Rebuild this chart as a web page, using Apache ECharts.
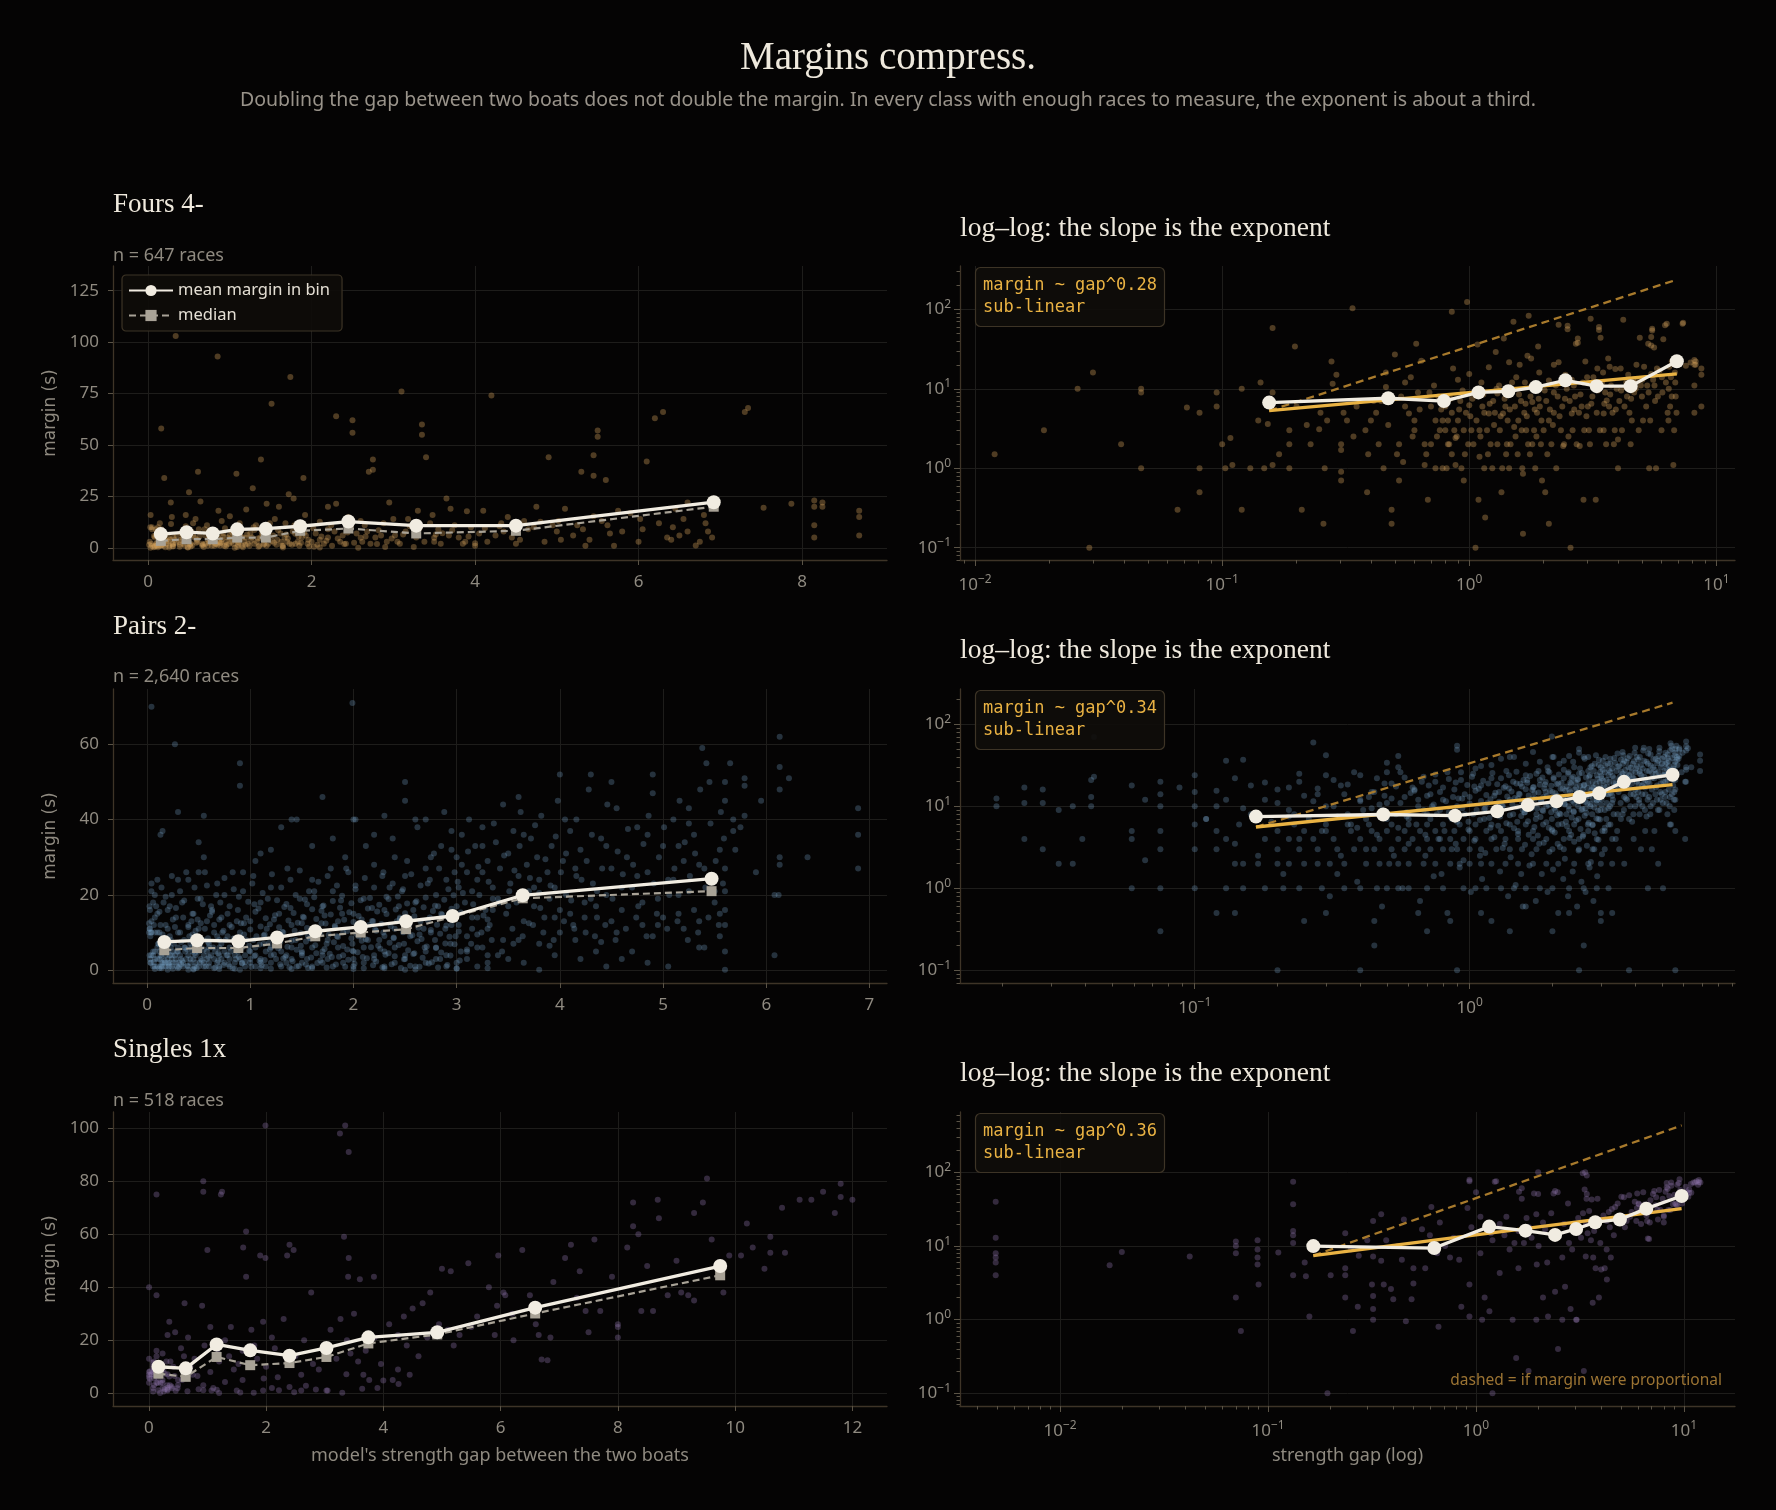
<!DOCTYPE html>
<html>
<head>
<meta charset="UTF-8">
<title>Margins compress.</title>
<script src="https://cdn.jsdelivr.net/npm/echarts@6/dist/echarts.min.js"></script>
<style>
  html, body { margin: 0; padding: 0; background: #050404; }
  #chart { width: 1776px; height: 1510px; }
</style>
</head>
<body>
<div id="chart"></div>
<script>
// ---- data ----
var classNames = ['Fours 4-', 'Pairs 2-', 'Singles 1x'];
var raceCounts = ['n = 647 races', 'n = 2,640 races', 'n = 518 races'];
var fitLabels = ['margin ~ gap^0.28\nsub-linear', 'margin ~ gap^0.34\nsub-linear', 'margin ~ gap^0.36\nsub-linear'];

// [strength gap, margin in seconds]
var foursPts = [
  [0.012,1.5],[0.019,3],[0.026,10],[0.029,0.1],[0.03,16],[0.039,2],[0.047,10],[0.047,9],[0.047,1],[0.066,0.3],[0.072,5.8],[0.081,5],[0.081,1],[0.081,0.5],[0.095,9],[0.095,6],[0.103,1],[0.108,2.4],[0.12,10],[0.12,0.3],[0.11,1.1],[0.13,1],[0.143,12],[0.148,1],[0.153,3.6],[0.16,58],[0.16,9],[0.16,1.1],
  [0.187,3],[0.187,2],[0.187,1],[0.197,34],[0.2,6],[0.21,0.3],[0.228,2],[0.247,3.1],[0.25,5],[0.257,0.2],[0.266,4],[0.277,22],[0.28,11.6],[0.29,15],[0.303,2],[0.303,1.7],[0.303,0.9],[0.303,0.7],[0.32,4],[0.337,103],[0.35,6],[0.38,3],[0.386,0.5],[0.4,4],[0.42,5],[0.43,2],[0.44,7],[0.45,1],[0.46,16],[0.46,10.5],[0.485,0.3],[0.485,0.2],[0.5,27],
  [0.52,2],[0.52,0.7],[0.54,1.2],[0.55,12],[0.55,6],[0.57,4.9],[0.58,14],[0.6,4],[0.6,3],[0.61,37],[0.62,9],[0.64,22.5],[0.66,2],[0.66,1.1],[0.68,0.4],[0.7,6],[0.7,2],[0.72,11],[0.73,4],[0.73,1],[0.75,8],[0.76,3],[0.78,4],[0.78,1],[0.8,3],[0.8,6],[0.82,4],[0.82,2],[0.83,2],[0.85,93],[0.85,5],[0.85,1.5],[0.86,18],[0.87,3],[0.88,2.4],[0.88,1.1],[0.9,4],[0.9,13],[0.92,7],[0.93,1],[0.95,0.7],[0.95,3],[0.97,5],[0.98,124],[0.99,2],
  [1.0,15.4],[1.0,6.2],[1.02,3],[1.04,2],[1.05,9],[1.06,0.1],[1.07,4],[1.08,36],[1.09,0.4],[1.1,3],[1.1,1.4],[1.12,12],[1.13,6],[1.15,5],[1.15,1],[1.16,0.24],[1.18,3],[1.2,18.6],[1.2,4.9],[1.22,2],[1.24,1],[1.25,7],[1.27,5],[1.28,29],[1.3,2],[1.3,8.7],[1.32,11],[1.33,3],[1.35,0.5],[1.36,1],[1.37,4.9],[1.38,43],[1.4,6],[1.42,2],[1.43,4],[1.45,21.5],[1.45,1],[1.47,2],[1.48,9],[1.51,70],[1.52,3.3],[1.53,6],[1.55,14],[1.57,1.5],[1.58,4],[1.6,20],[1.62,7],[1.63,3],[1.65,0.15],[1.65,0.85],[1.67,5],[1.68,12],[1.7,3],[1.72,26],[1.73,2],[1.74,83],[1.77,8],[1.78,24],[1.8,6.8],[1.8,2],[1.83,3],[1.85,10],[1.85,1],[1.88,5],[1.9,34],[1.92,16],[1.93,6],[1.95,2],[1.97,0.7],[2.0,3],[2.03,0.5],
  [2.05,7],[2.1,0.2],[2.1,4],[2.1,12.7],[2.15,2],[2.2,9],[2.2,20],[2.2,5],[2.25,1],[2.28,8],[2.3,21.5],[2.3,64],[2.35,3],[2.38,6],[2.4,1.9],[2.42,2],[2.45,15],[2.48,10],[2.5,62],[2.5,56],[2.55,7],[2.57,0.1],[2.6,4.9],[2.6,13],[2.62,3],[2.65,11],[2.68,8],[2.7,37],[2.72,2],[2.75,43],[2.75,38],[2.78,5],[2.8,1.9],[2.85,6],[2.88,12],[2.9,0.4],[2.92,3],[2.95,22],[3.0,14],[3.02,6],[3.05,3],[3.08,2],[3.1,76],[3.15,8],[3.18,14],[3.2,10.5],[3.25,0.4],[3.28,5],[3.3,18],[3.35,60],[3.35,55],[3.38,3],[3.4,44],[3.45,12],[3.48,16],[3.5,4.9],[3.5,3],[3.55,9],[3.58,2],[3.6,7.1],[3.65,24],[3.68,6],[3.7,19],[3.75,11],[3.8,5],[3.85,2],[3.88,3],[3.9,17.8],[3.95,10],[4.0,2.3],[4.0,1],
  [4.05,7],[4.1,18],[4.15,3],[4.2,74],[4.25,6],[4.3,10.5],[4.35,8],[4.4,15],[4.45,5],[4.5,2],[4.55,4],[4.6,13],[4.65,9],[4.75,20],[4.8,12.7],[4.85,3],[4.9,44],[4.95,11],[5.0,8],[5.05,4],[5.1,19],[5.2,6],[5.25,11],[5.3,37],[5.35,1],[5.4,4],[5.45,15.4],[5.45,45],[5.45,35],[5.5,57],[5.5,54],[5.55,13],[5.6,33],[5.65,7],[5.7,1],[5.75,18],[5.8,8],[5.9,17],[6.0,3],[6.05,9],[6.1,42],[6.2,63],[6.25,12],[6.3,66],[6.35,5],[6.4,4],[6.45,19],[6.5,6],[6.55,14],[6.6,8],[6.6,22],[6.7,1.1],[6.75,3],[6.8,16],[6.85,8],[6.9,5],
  [7.34,68],[7.3,66],[7.53,19.5],[7.87,21.4],[8.15,23],[8.15,20],[8.15,11],[8.15,5],[8.25,22],[8.25,20],[8.7,18],[8.7,15],[8.7,6],
  [0.1,2],[0.14,4],[0.17,1.5],[0.22,3.5],[0.26,1],[0.31,5],[0.34,2.5],[0.39,1.5],[0.41,7],[0.47,3.5],[0.51,1.5],[0.53,8],[0.59,2.5],[0.63,5.5],[0.67,1.5],[0.69,9],[0.74,2.5],[0.77,5.5],[0.81,1],[0.84,7.5],[0.89,2.5],[0.91,5.5],[0.94,9.5],[0.96,1.5],[1.01,4.5],[1.03,7.5],[1.11,2.5],[1.14,8.5],[1.19,1.5],[1.21,6.5],[1.26,3.5],[1.29,10],[1.34,4.5],[1.39,7.5],[1.41,1.5],[1.46,5.5],[1.49,12],[1.54,2.5],[1.59,8.5],[1.64,1],[1.69,6.5],[1.71,4.5],[1.76,1.5],[1.79,11],[1.84,5.5],[1.87,2.5],[1.91,7.5],[1.96,4],[2.02,9.5],[2.07,1.5],[2.12,5.5],[2.18,3.5],[2.24,11],[2.32,4.5],[2.44,7.5],[2.52,2.5],[2.66,5.5],[2.82,8.5],[2.98,4.5],[3.12,6.5],[3.32,9.5],[3.52,6.5],[3.72,8.5],[3.92,5.5],[4.12,9.5],[4.32,12],[4.52,7.5],[4.72,10],[5.02,13],[5.32,9],[5.62,11],[6.02,14],[6.42,10],[6.82,12]
];

var pairsPts = [
  [0.019,12.5],[0.019,10],[0.024,17],[0.024,11],[0.024,4],[0.028,16],[0.028,11],[0.028,3],[0.032,9],[0.032,2],[0.036,10],[0.036,2],[0.039,4],[0.042,21],[0.042,13],[0.042,10],[0.043,23],[0.043,70],[0.059,18],[0.059,5],[0.059,4],[0.059,1],[0.066,12],[0.066,2.2],[0.075,20],[0.075,14],[0.075,10],[0.075,5],[0.075,3],[0.075,1],[0.075,0.3],[0.088,17],[0.1,24],[0.1,15],[0.1,10],[0.1,6],[0.1,3],[0.1,1],[0.11,7],[0.12,5],[0.12,10],[0.12,3],[0.13,4],[0.13,1],[0.13,36],[0.14,0.5],[0.14,2],[0.145,6],
  [0.15,1],[0.18,1],[0.21,1],[0.24,1],[0.29,1],[0.35,1],[0.4,1],[0.46,1],[0.5,1],[0.55,1],[0.6,1],[0.7,1],[0.8,1],[0.95,1],[1.05,1],[1.15,1],[1.3,1],[1.45,1],[1.6,1],[1.8,1],[2.0,1],[2.3,1],[2.6,1],[2.9,1],[3.2,1],
  [0.15,2],[0.17,2],[0.2,2],[0.22,2],[0.25,2],[0.28,2],[0.31,2],[0.35,2],[0.42,2],[0.47,2],[0.55,2],[0.6,2],[0.68,2],[0.75,2],[0.85,2],[0.92,2],[1.0,2],[1.1,2],[1.2,2],[1.35,2],[1.5,2],[1.7,2],[1.9,2],[2.1,2],[2.4,2],[2.7,2],[3.0,2],[3.3,2],
  [0.2,3],[0.24,3],[0.28,3],[0.33,3],[0.38,3],[0.45,3],[0.52,3],[0.58,3],[0.65,3],[0.72,3],[0.8,3],[0.9,3],[1.0,3],[1.1,3],[1.25,3],[1.4,3],[1.55,3],[1.75,3],[2.0,3],[2.2,3],[2.5,3],[2.8,3],[3.1,3],[3.5,3],
  [0.18,4],[0.22,4],[0.27,4],[0.32,4],[0.4,4],[0.47,4],[0.55,4],[0.62,4],[0.7,4],[0.78,4],[0.85,4],[0.95,4],[1.05,4],[1.2,4],[1.35,4],[1.5,4],[1.7,4],[1.9,4],[2.2,4],[2.5,4],[2.9,4],[3.3,4],
  [0.2,5],[0.25,5],[0.3,5],[0.37,5],[0.44,5],[0.5,5],[0.58,5],[0.66,5],[0.75,5],[0.88,5],[1.0,5],[1.15,5],[1.3,5],[1.5,5],[1.7,5],[2.0,5],[2.3,5],[2.7,5],[3.1,5],
  [0.23,6],[0.3,6],[0.36,6],[0.43,6],[0.52,6],[0.6,6],[0.7,6],[0.8,6],[0.92,6],[1.05,6],[1.2,6],[1.4,6],[1.6,6],[1.85,6],[2.1,6],[2.4,6],[2.8,6],[3.2,6],
  [0.3,0.5],[0.45,0.4],[0.7,0.3],[1.1,0.5],[1.6,0.6],[2.0,0.3],[2.3,0.5],[2.6,0.2],[3.0,0.4],[3.3,0.5],[0.2,0.1],[0.4,0.1],[0.9,0.1],[2.5,0.1],[3.8,0.1],[0.85,0.4],[1.4,0.3],[0.25,0.4],[0.45,0.2],[0.65,0.5],
  [0.16,8],[0.18,12],[0.2,16],[0.22,9],[0.24,20],[0.26,7],[0.28,14],[0.3,24],[0.32,10],[0.34,18],[0.36,8],[0.38,26],[0.4,12],[0.42,7],[0.44,15],[0.46,22],[0.48,9],[0.5,11],[0.52,19],[0.54,8],[0.56,26],[0.58,13],[0.6,7],[0.62,17],[0.65,10],[0.68,23],[0.7,8],[0.72,14],[0.75,20],[0.78,9],[0.8,12],[0.83,26],[0.86,7],[0.88,16],[0.9,10],[0.93,21],[0.96,8],[1.0,13],[1.03,25],[1.06,9],[1.1,18],[1.13,7],[1.16,11],[1.2,22],[1.24,8],[1.28,15],[1.32,10],[1.36,27],[1.4,12],[1.44,8],[1.48,19],[1.52,14],[1.56,9],[1.6,24],[1.65,11],[1.7,17],[1.75,8],[1.8,21],[1.85,13],[1.9,10],[1.95,26],[2.0,15],[2.05,9],[2.1,19],[2.15,12],[2.2,28],[2.25,8],[2.3,16],[2.35,22],[2.4,11],[2.45,14],[2.5,25],[2.55,9],[2.6,18],[2.65,13],[2.7,27],[2.75,10],[2.8,20],[2.85,15],[2.9,24],[2.95,12],[3.0,17],[3.05,28],[3.1,9],[3.15,21],[3.2,14],[3.25,26],[3.3,11],[3.35,19],
  [0.9,55],[0.9,49],[0.3,42],[0.27,60],[0.55,41],[0.5,34],[0.55,30],[1.05,29],[1.2,32],[1.3,38],[1.4,40],[1.45,40],[1.7,46],[1.8,35],[2.0,40],[2.02,40],[2.5,50],[2.5,45],[2.3,41],[2.6,40],[2.7,40],[2.85,33],[2.95,37],[0.15,37],[1.1,31],[1.6,33],[2.2,36],[2.4,30],[2.75,30],[2.95,32],[1.99,71],
  [3.0,30],[3.02,22],[3.05,36],[3.08,18],[3.1,26],[3.12,40],[3.15,14],[3.18,33],[3.2,24],[3.22,20],[3.25,38],[3.28,16],[3.3,29],[3.32,12],[3.35,22],[3.38,34],[3.4,19],[3.42,27],[3.45,44],[3.48,15],[3.5,31],[3.52,23],[3.55,37],[3.58,18],[3.6,25],[3.62,42],[3.65,13],[3.68,28],[3.7,21],[3.72,35],[3.75,17],[3.78,30],[3.8,24],[3.82,41],[3.85,14],[3.88,26],[3.9,19],[3.92,33],[3.95,22],[3.98,45],[4.0,16],[4.03,29],[4.06,20],[4.1,37],[4.13,12],[4.16,25],[4.2,32],[4.24,18],[4.28,48],[4.32,23],[4.36,14],[4.4,35],[4.45,20],[4.5,27],[4.55,43],[4.6,16],[4.65,30],[4.7,22],[4.75,38],[4.8,12],[4.85,26],[4.9,47],[4.95,19],[5.0,33],[5.05,24],[5.1,40],[5.15,15],[5.2,29],[5.25,21],[5.3,36],[5.35,13],[5.4,27],[5.45,50],[5.5,18],[5.55,32],[5.58,23],[5.6,45],[5.42,55],[5.38,59],[5.25,43],[5.15,33],[4.9,52],[4.5,50],[4.3,52],[4.0,52],[3.6,46],[4.15,8],[4.35,5],[4.6,3],[4.85,2],[5.05,1],[5.35,6],[5.55,9],[3.95,4],[3.65,2],[3.25,6],[3.45,8],[3.8,7],[4.25,10],[4.45,1],[5.6,0.1],[5.6,5],[5.6,12],[5.6,16],[5.6,21],
  [5.68,37],[5.68,40],[5.79,41],[5.79,51],[5.79,49],[6.08,4],[6.08,20],[6.12,20],[6.13,62],[6.13,54],[6.13,48],[6.13,30],[6.13,28],[6.22,51],[6.4,30],[6.89,43],[6.89,36],[6.89,27],[5.65,55],[5.7,32],[5.75,38],[5.9,26],[5.95,45],
  [1.5,12.5],[1.55,17.5],[1.62,21],[1.68,9.5],[1.72,14.5],[1.78,27],[1.82,11.5],[1.88,18.5],[1.92,30],[1.98,8.5],[2.02,22.5],[2.08,13.5],[2.12,33],[2.18,16.5],[2.22,10.5],[2.28,25],[2.32,19.5],[2.38,35],[2.42,13],[2.48,21.5],[2.52,29],[2.58,16],[2.62,38],[2.68,11],[2.72,23],[2.78,31],[2.82,17],[2.88,42],[2.92,14],[2.98,26],
  [3.02,12],[3.06,20.5],[3.11,31.5],[3.16,17.5],[3.21,27.5],[3.26,14.5],[3.31,23.5],[3.36,39],[3.41,18],[3.46,30.5],[3.51,21],[3.56,26.5],[3.61,33],[3.66,19.5],[3.71,24.5],[3.76,38.5],[3.81,16.5],[3.86,29.5],[3.91,22.5],[3.96,35.5],[4.01,26],[4.06,31],[4.11,18.5],[4.16,40],[4.21,24],[4.26,29],[4.31,36],[4.36,21],[4.41,27],[4.46,44],[4.51,19],[4.56,31.5],[4.61,25.5],[4.66,37.5],[4.71,28],[4.76,17],[4.81,33.5],[4.86,41],[4.91,23],[4.96,30],[5.01,38],[5.06,20],[5.11,27],[5.16,45],[5.21,34],[5.26,25],[5.31,31],[5.36,48],[5.41,22],[5.46,39],[5.51,29],[5.56,42],[5.59,35],[5.6,27],[5.6,50],
  [0.17,2.5],[0.22,7.5],[0.27,11.5],[0.33,1.5],[0.39,5.5],[0.44,9.5],[0.49,13.5],[0.53,2.5],[0.59,7.5],[0.63,15.5],[0.69,4.5],[0.74,10.5],[0.79,1.5],[0.84,8.5],[0.89,3.5],[0.94,12.5],[0.99,6.5],[1.04,17.5],[1.09,2.5],[1.14,9.5],[1.19,5.5],[1.23,13.5],[1.29,7.5],[1.34,3.5],[1.39,16.5],[1.43,10.5],[1.49,6.5],[1.54,1.5],[1.59,8.5],[1.64,4.5],[1.69,12.5],[1.74,7],[1.79,3.5],[1.84,9],[1.89,15],[1.94,5.5],[1.99,7],[2.04,11],[2.09,3.5],[2.14,8],[2.19,13],[2.24,6.5],[2.29,10],[2.34,4.5],[2.39,8.5],[2.44,17],[2.49,7],[2.54,12],[2.59,4.5],[2.64,9.5],[2.69,6],[2.74,14],[2.79,8],[2.84,3],[2.89,11],[2.94,7],[2.99,9],[3.04,5],[3.14,7],[3.24,10],[3.34,8],[3.44,5],[3.54,11],[3.64,9],[3.74,12],[3.84,10],[3.94,8],[4.04,13],[4.14,11],[4.24,14],[4.34,9],[4.44,12],[4.54,8],[4.64,11],[4.74,14],[4.84,9],[4.94,15],[5.04,11],[5.14,13],[5.24,8],[5.34,10],[5.44,14],[5.54,12],
  [0.12,0.5],[0.14,3.5],[0.11,7],[0.15,9.5],[0.13,12],[0.12,15.5],[0.16,18],[0.14,22],
  [0.21,1.5],[0.24,4],[0.19,6.5],[0.23,8],[0.2,11],[0.25,13.5],[0.22,17],[0.18,19.5],[0.24,25],
  [0.31,0.8],[0.34,2.5],[0.29,5],[0.33,7.5],[0.3,10],[0.35,14],[0.28,16.5],[0.32,21],
  [0.39,1.2],[0.42,3],[0.37,6],[0.41,9],[0.4,11.5],[0.43,13],[0.36,18.5],[0.4,24],
  [0.48,0.6],[0.51,2],[0.46,4.5],[0.5,7],[0.47,10.5],[0.52,12.5],[0.45,15],[0.49,19],[0.5,26],
  [0.57,1],[0.6,3.5],[0.55,5.5],[0.59,8.5],[0.56,11],[0.61,14.5],[0.54,17.5],[0.58,22.5],
  [0.66,0.7],[0.69,2.5],[0.64,6],[0.68,9],[0.65,12],[0.7,13.5],[0.63,16],[0.67,20],
  [0.74,1.4],[0.77,4],[0.72,7],[0.76,8],[0.73,10],[0.78,15],[0.71,18],[0.75,24.5],
  [0.83,0.5],[0.86,3],[0.81,5],[0.85,7.5],[0.82,11.5],[0.87,13],[0.8,17],[0.84,21.5],
  [0.92,1.8],[0.95,2.2],[0.9,6.5],[0.94,9.5],[0.91,12.5],[0.96,14],[0.89,19.5],[0.93,26],
  [1.01,0.9],[1.04,3.8],[0.99,5.2],[1.03,8],[1.0,10.8],[1.05,15.5],[0.98,18.2],[1.02,23],
  [1.11,1.3],[1.14,2.7],[1.09,6.8],[1.13,9.2],[1.1,11.6],[1.15,13.8],[1.08,16.4],[1.12,20.5],
  [1.2,0.4],[1.23,4.2],[1.18,7.2],[1.22,8.6],[1.19,12.2],[1.24,14.6],[1.17,19],[1.21,25.5],
  [1.29,1.6],[1.32,3.1],[1.27,5.8],[1.31,10.2],[1.28,11.4],[1.33,16.8],[1.26,18.6],[1.3,22],
  [1.38,0.8],[1.41,2.4],[1.36,6.2],[1.4,7.8],[1.37,13.2],[1.42,15.2],[1.35,17.6],[1.39,24],
  [1.47,1.1],[1.5,4.6],[1.45,5.4],[1.49,9.8],[1.46,12.6],[1.51,14.2],[1.44,20],[1.48,26.5],
  [1.56,0.6],[1.59,3.4],[1.54,7.6],[1.58,8.4],[1.55,11.2],[1.6,16.2],[1.53,18.8],[1.57,21],
  [1.65,1.9],[1.68,2.6],[1.63,6.6],[1.67,10.6],[1.64,13.6],[1.69,15.8],[1.62,19.4],[1.66,23.5],
  [1.74,0.7],[1.77,4.4],[1.72,5.6],[1.76,9.4],[1.73,12.4],[1.78,14.8],[1.71,17.2],[1.75,25],
  [1.83,1.5],[1.86,3.6],[1.81,7.4],[1.85,8.8],[1.82,11.8],[1.87,16.6],[1.8,18.4],[1.84,22.5],
  [1.92,0.9],[1.95,2.8],[1.9,6.4],[1.94,10.4],[1.91,13.4],[1.96,15.4],[1.89,19.8],[1.93,27],
  [2.01,1.7],[2.04,4.8],[1.99,5.2],[2.03,9.6],[2.0,12.8],[2.05,14.4],[1.98,17.8],[2.02,21.5],
  [2.1,0.5],[2.13,3.2],[2.08,7.8],[2.12,8.2],[2.09,11.4],[2.14,16.4],[2.07,18.6],[2.11,24.5],
  [2.19,1.3],[2.22,2.3],[2.17,6.1],[2.21,10.8],[2.18,13.1],[2.23,15.6],[2.16,19.2],[2.2,22],
  [2.28,0.8],[2.31,4.1],[2.26,5.7],[2.3,9.1],[2.27,12.3],[2.32,14.9],[2.25,17.4],[2.29,26],
  [2.37,1.6],[2.4,3.7],[2.35,7.3],[2.39,8.7],[2.36,11.7],[2.41,16.1],[2.34,18.9],[2.38,23],
  [2.46,0.6],[2.49,2.9],[2.44,6.7],[2.48,10.1],[2.45,13.7],[2.5,15.1],[2.43,19.6],[2.47,21],
  [2.55,1.2],[2.58,4.3],[2.53,5.3],[2.57,9.3],[2.54,12.9],[2.59,14.3],[2.52,17.7],[2.56,25.5],
  [2.64,0.9],[2.67,3.3],[2.62,7.7],[2.66,8.3],[2.63,11.3],[2.68,16.7],[2.61,18.3],[2.65,22.5],
  [2.73,1.8],[2.76,2.1],[2.71,6.3],[2.75,10.7],[2.72,13.3],[2.77,15.7],[2.7,19.3],[2.74,24],
  [2.82,0.7],[2.85,4.7],[2.8,5.9],[2.84,9.7],[2.81,12.1],[2.86,14.7],[2.79,17.1],[2.83,27],
  [2.91,1.4],[2.94,3.9],[2.89,7.1],[2.93,8.9],[2.9,11.9],[2.95,16.3],[2.88,18.7],[2.92,21.5],
  [3.0,0.5],[3.03,2.6],[2.98,6.9],[3.02,10.3],[2.99,13.9],[3.04,15.3],[2.97,19.9],[3.01,23.5],
  [3.1,5.5],[3.2,9.5],[3.3,13.5],[3.4,4],[3.5,17],[3.6,8],[3.7,12.5],[3.8,20.5],[3.9,6.5],[4.0,10],[4.1,15],[4.2,3],[4.3,19],[4.4,7.5],[4.5,13],[4.6,22],[4.7,5],[4.8,18],[4.9,9],[5.0,14],[5.1,24],[5.2,11],[5.3,16],[5.4,6],[5.5,21],[3.15,11],[3.35,16],[3.55,7],[3.75,22],[3.95,14],[4.15,27],[4.35,17],[4.55,10],[4.75,25],[4.95,12],[5.15,20],[5.35,28],[5.55,15],[3.25,33],[3.65,36],[4.05,40],[4.45,33],[4.85,36],[5.25,39]
];

var singlesPts = [
  [0.0049,40],[0.0049,13],[0.0049,8],[0.0049,7],[0.0049,6],[0.0049,4],[0.0173,5.5],[0.0198,8.3],[0.042,7.2],[0.07,11.5],[0.07,10],[0.07,8],[0.07,2],[0.074,0.7],[0.089,12],[0.089,9],[0.089,7],[0.089,5.6],[0.112,8.2],[0.132,75],[0.132,37],[0.132,16],[0.132,14],[0.132,11],[0.132,4],[0.152,3.9],[0.158,1.1],[0.193,0.1],[0.235,15],[0.235,5],[0.235,4],[0.235,2],[0.256,0.7],[0.273,7.4],[0.316,3],[0.32,22],[0.32,7.2],[0.32,2.1],[0.32,1.4],[0.32,1],[0.35,6.3],[0.37,12],[0.39,2.6],[0.4,1.9],[0.44,6.5],[0.46,0.95],[0.49,1.9],[0.5,3.1],[0.57,5],[0.61,34],[0.66,0.8],[0.67,21],[0.71,10],[0.83,6.5],[0.93,80],[0.93,76],[0.93,1.1],[0.93,3],[1.07,1],[1.16,1.3],[1.2,0.1],[1.23,75],[1.25,76],[1.3,4.3],[1.4,25],[1.53,11],[1.56,0.3],[1.61,55],[1.66,61],[1.66,44],[1.79,0.2],[1.9,52],[1.96,5.6],[1.99,101],[1.99,51],[2.1,2],[2.22,1.1],[2.36,52],[2.4,56],[2.47,54],[2.48,0.4],[2.68,2.8],[2.77,38],[2.85,1.4],[3.03,1],[3.26,98],[3.35,101],[3.41,91],[3.33,59],[3.41,51],[3.37,7.2],[3.4,44],[3.6,43],[3.64,1.7],[3.84,44],[4.0,4.8],[4.26,3.5],[3.3,0.2],[1.0,54],
  [5.0,47],[5.15,46],[5.45,49],[5.96,52],[6.37,54],[7.2,56],[7.6,58],[7.1,51],[7.35,46],[8.26,72],[8.26,63],[8.35,60],[8.16,55],[8.68,73],[8.7,66],[9.52,81],[9.45,72],[9.3,68],[11.1,73],[11.3,73],[12.0,73],[11.7,68],[11.8,79],[11.8,74],[10.1,52],[10.3,55],[10.6,59],[10.6,53],[10.5,47],[10.85,53],[9.9,52],[9.8,38],[9.2,37],[9.3,35],[9.08,38],[8.85,37],[8.6,31],[8.4,31],[8.0,25],[8.0,26],[8.0,21],[7.45,31],[7.7,31],[7.5,23],
  [5.94,33],[6.08,37],[6.05,38],[6.5,37],[6.22,20],[6.6,26],[6.7,12.7],[6.8,12.5],[6.85,21],[6.65,22],[5.9,22],[5.5,25],[5.3,22],[5.1,24],[4.95,26],[4.75,21],[4.5,32],[4.67,34],[4.35,29],[4.25,22],[4.4,18],[4.25,9],[4.45,7],[4.16,5],[3.96,11],[3.76,5],[3.66,7],[3.57,12],[3.44,15],[3.38,20],[3.85,21],[3.27,28],[3.03,17],[2.8,11],[2.6,7],[2.4,2.4],[2.2,6],[2.1,21],[1.95,27],[1.8,18],[1.7,11],[1.6,5],[1.5,1],[1.37,14],[1.18,15],[1.05,25],[0.91,33],[0.78,13],[0.65,8],[0.5,5],[0.36,3],[0.27,1.5],[0.15,6],[0.09,3],[0.45,23],[0.35,27],[0.55,17],[0.85,1.5],[1.1,2],[1.95,1],[2.6,1],[3.05,1],[3.9,2],
  [1.2,12],[1.3,20],[1.45,9],[1.6,16],[1.75,24],[1.85,13],[2.0,10],[2.15,17],[2.3,28],[2.5,14],[2.65,20],[2.9,9],[3.1,24],[3.2,13],[3.5,30],[3.7,16],[4.1,26],[4.6,14],[4.8,38],[5.2,18],[5.6,29],[5.8,40],[6.2,30],[6.9,42],[7.3,36],[7.9,44],[8.5,48],[9.0,50],[9.6,58],[10.2,64],[10.8,70],[11.5,76],[0.25,9],[0.3,12],[0.42,10],[0.6,14],[0.75,7],[0.95,18],[1.05,8],[0.2,4]
];

// binned summaries
var foursBinGap = [0.155, 0.47, 0.79, 1.09, 1.44, 1.86, 2.45, 3.28, 4.5, 6.92];
var foursMean   = [6.7, 7.6, 7.0, 9.0, 9.3, 10.5, 12.8, 10.8, 10.8, 22.2];
var foursMedian = [3.4, 4.2, 4.2, 5.0, 5.0, 8.3, 9.4, 7.0, 8.3, 20.0];
var pairsBinGap = [0.167, 0.485, 0.885, 1.26, 1.63, 2.07, 2.51, 2.96, 3.64, 5.47];
var pairsMean   = [7.5, 7.95, 7.7, 8.7, 10.35, 11.5, 13.0, 14.4, 19.9, 24.3];
var pairsMedian = [5.3, 5.9, 5.9, 7.1, 9.0, 10.0, 10.9, 14.2, 19.1, 21.0];
var singlesBinGap = [0.165, 0.63, 1.157, 1.73, 2.40, 3.03, 3.745, 4.92, 6.59, 9.745];
var singlesMean   = [10.0, 9.4, 18.4, 16.2, 14.2, 17.1, 21.1, 23.0, 32.3, 48.0];
var singlesMedian = [7.4, 6.2, 13.7, 10.6, 11.4, 13.7, 18.8, 22.2, 30.1, 44.5];

// power-law fit and the proportional reference (endpoints)
var foursFit = [[0.155, 5.3], [6.92, 15.4]];
var foursProp = [[0.155, 5.3], [6.92, 236]];
var pairsFit = [[0.167, 5.6], [5.47, 18.4]];
var pairsProp = [[0.167, 5.6], [5.47, 184]];
var singlesFit = [[0.165, 7.4], [9.745, 32.3]];
var singlesProp = [[0.165, 7.4], [9.745, 437]];

// axis extents and ticks
var linXRange = [[-0.43, 9.04], [-0.33, 7.17], [-0.61, 12.59]];
var linYRange = [[-5.9, 137], [-3.4, 74.7], [-4.8, 106.1]];
var linXTicks = [[0, 2, 4, 6, 8], [0, 1, 2, 3, 4, 5, 6, 7], [0, 2, 4, 6, 8, 10, 12]];
var linYTicks = [[0, 25, 50, 75, 100, 125], [0, 20, 40, 60], [0, 20, 40, 60, 80, 100]];
var logXRange = [[0.00869, 11.9], [0.014, 9.23], [0.0033, 17.6]];
var logYRange = [[0.07, 351], [0.07, 270], [0.067, 665]];

// ---- styling ----
var BG = '#050404', CREAM = '#f1ece1', MED = '#a8a296', ORANGE = '#e9b243', PROP = '#a87a2c';
var GRID = '#1e1d1b', SPINE = '#3e3427', TICK = '#5a5346', LABEL = '#8f8a80';
var TITLE = '#efe9dd', SUB = '#99938a';
var SERIF = "'Liberation Serif', 'DejaVu Serif', serif";
var SANS = "'Noto Sans', 'Open Sans', sans-serif";
var MONO = "'DejaVu Sans Mono', 'Liberation Mono', monospace";
var dotColors = ['rgba(212,160,92,0.45)', 'rgba(122,166,202,0.36)', 'rgba(146,118,176,0.42)'];

var classPts = [foursPts, pairsPts, singlesPts];
var binGaps = [foursBinGap, pairsBinGap, singlesBinGap];
var means = [foursMean, pairsMean, singlesMean];
var medians = [foursMedian, pairsMedian, singlesMedian];
var fits = [foursFit, pairsFit, singlesFit];
var props = [foursProp, pairsProp, singlesProp];

var rowTop = [266, 689, 1112];
var rowHeight = 294;
var titleTop = [190, 612, 1035];
var logTitleTop = [214, 636, 1059];
var nTop = [246, 667, 1091];

function pairUp(xs, ys) {
  return xs.map(function (x, k) { return [x, ys[k]]; });
}

function powLabel(v) {
  var e = Math.round(v);
  return '10{sup|' + (e < 0 ? '\u2212' + (-e) : e) + '}';
}

// value axis laid over a log axis, used for ticks, labels and grid lines
function decoAxis(dim, gridIndex, range, kind, name) {
  var lo = Math.log10(range[0]), hi = Math.log10(range[1]);
  var majors = [], minors = [];
  for (var e = Math.floor(lo); e <= Math.ceil(hi); e++) {
    if (e >= lo && e <= hi) majors.push(e);
    for (var m = 2; m <= 9; m++) {
      var v = e + Math.log10(m);
      if (v >= lo && v <= hi) minors.push(v);
    }
  }
  var ax = { type: 'value', gridIndex: gridIndex, min: lo, max: hi, position: dim === 'x' ? 'bottom' : 'left' };
  if (kind === 'major') {
    ax.axisLine = { show: true, onZero: false, lineStyle: { color: SPINE, width: 1.3 } };
    ax.axisTick = { show: true, customValues: majors, length: 6, lineStyle: { color: TICK } };
    ax.axisLabel = {
      customValues: majors, formatter: powLabel, color: LABEL, fontSize: 17, fontFamily: SANS,
      margin: dim === 'x' ? 14 : 9,
      rich: { sup: { fontSize: 12, color: LABEL, fontFamily: SANS, padding: [0, 0, 10, 0] } }
    };
    ax.splitLine = { show: true, lineStyle: { color: GRID } };
    if (name) {
      ax.name = name; ax.nameLocation = 'middle'; ax.nameGap = 41;
      ax.nameTextStyle = { color: LABEL, fontSize: 18, fontFamily: SANS };
    }
  } else {
    ax.axisLine = { show: false, onZero: false };
    ax.axisTick = { show: true, customValues: minors, length: 3.5, lineStyle: { color: TICK } };
    ax.axisLabel = { show: false };
    ax.splitLine = { show: false };
  }
  return ax;
}

var grids = [], xAxes = [], yAxes = [], series = [], titles = [];

titles.push({
  text: 'Margins compress.', left: 'center', top: 37, padding: 0,
  textStyle: { fontFamily: SERIF, fontSize: 39, lineHeight: 44, fontWeight: 'normal', color: TITLE }
});
titles.push({
  text: 'Doubling the gap between two boats does not double the margin. In every class with enough races to measure, the exponent is about a third.',
  left: 'center', top: 88, padding: 0,
  textStyle: { fontFamily: SANS, fontSize: 19.5, lineHeight: 24, fontWeight: 'normal', color: SUB }
});

for (var i = 0; i < 3; i++) {
  var gLin = grids.length;
  grids.push({ left: 113, top: rowTop[i], width: 774, height: rowHeight });
  var gLog = grids.length;
  grids.push({ left: 960, top: rowTop[i], width: 775, height: rowHeight });

  titles.push({ text: classNames[i], left: 113, top: titleTop[i], padding: 0,
    textStyle: { fontFamily: SERIF, fontSize: 27, lineHeight: 30, fontWeight: 'normal', color: TITLE } });
  titles.push({ text: raceCounts[i], left: 113, top: nTop[i], padding: 0,
    textStyle: { fontFamily: SANS, fontSize: 18, lineHeight: 20, fontWeight: 'normal', color: LABEL } });
  titles.push({ text: 'log\u2013log: the slope is the exponent', left: 960, top: logTitleTop[i], padding: 0,
    textStyle: { fontFamily: SERIF, fontSize: 27.5, lineHeight: 30, fontWeight: 'normal', color: TITLE } });
  titles.push({ text: fitLabels[i], left: 975, top: rowTop[i] + 1, padding: [8, 8, 8, 8],
    backgroundColor: 'rgba(15,13,10,0.92)', borderColor: '#3d3426', borderWidth: 1.2, borderRadius: 5,
    textStyle: { fontFamily: MONO, fontSize: 17, lineHeight: 22, fontWeight: 'normal', color: ORANGE } });

  // linear panel axes
  var xLin = xAxes.length;
  xAxes.push({
    type: 'value', gridIndex: gLin, min: linXRange[i][0], max: linXRange[i][1], position: 'bottom',
    axisLine: { show: true, onZero: false, lineStyle: { color: SPINE, width: 1.3 } },
    axisTick: { show: true, customValues: linXTicks[i], length: 5, lineStyle: { color: TICK } },
    axisLabel: { customValues: linXTicks[i], color: LABEL, fontSize: 17, fontFamily: SANS, margin: 14 },
    splitLine: { show: true, lineStyle: { color: GRID } },
    name: i === 2 ? "model's strength gap between the two boats" : '',
    nameLocation: 'middle', nameGap: 41,
    nameTextStyle: { color: LABEL, fontSize: 18, fontFamily: SANS }
  });
  var yLin = yAxes.length;
  yAxes.push({
    type: 'value', gridIndex: gLin, min: linYRange[i][0], max: linYRange[i][1], position: 'left',
    axisLine: { show: true, onZero: false, lineStyle: { color: SPINE, width: 1.3 } },
    axisTick: { show: true, customValues: linYTicks[i], length: 5, lineStyle: { color: TICK } },
    axisLabel: { customValues: linYTicks[i], color: LABEL, fontSize: 17, fontFamily: SANS, margin: 14 },
    splitLine: { show: true, lineStyle: { color: GRID } },
    name: 'margin (s)', nameLocation: 'middle', nameGap: 54, nameRotate: 90,
    nameTextStyle: { color: LABEL, fontSize: 17, fontFamily: "'DejaVu Sans', sans-serif" }
  });

  // log panel: data axes plus overlaid tick axes
  var xLog = xAxes.length;
  xAxes.push({ type: 'log', logBase: 10, gridIndex: gLog, min: logXRange[i][0], max: logXRange[i][1], show: false });
  xAxes.push(decoAxis('x', gLog, logXRange[i], 'major', i === 2 ? 'strength gap (log)' : ''));
  xAxes.push(decoAxis('x', gLog, logXRange[i], 'minor'));
  var yLog = yAxes.length;
  yAxes.push({ type: 'log', logBase: 10, gridIndex: gLog, min: logYRange[i][0], max: logYRange[i][1], show: false });
  yAxes.push(decoAxis('y', gLog, logYRange[i], 'major'));
  yAxes.push(decoAxis('y', gLog, logYRange[i], 'minor'));

  var pts = classPts[i];
  var meanPts = pairUp(binGaps[i], means[i]);
  var medPts = pairUp(binGaps[i], medians[i]);

  series.push({
    type: 'scatter', xAxisIndex: xLin, yAxisIndex: yLin, data: pts, symbolSize: 6,
    itemStyle: { color: dotColors[i] }, silent: true, z: 1
  });
  series.push({
    type: 'line', name: i === 0 ? 'median' : 'median ' + i, xAxisIndex: xLin, yAxisIndex: yLin, data: medPts,
    symbol: 'rect', symbolSize: 10, itemStyle: { color: MED },
    lineStyle: { color: MED, width: 2.2, type: [7, 4] }, silent: true, z: 3
  });
  series.push({
    type: 'line', name: i === 0 ? 'mean margin in bin' : 'mean ' + i, xAxisIndex: xLin, yAxisIndex: yLin, data: meanPts,
    symbol: 'circle', symbolSize: 14, itemStyle: { color: CREAM },
    lineStyle: { color: CREAM, width: 3.3 }, silent: true, z: 4
  });

  var logPts = pts.filter(function (p) { return p[0] > 0 && p[1] > 0; });
  series.push({
    type: 'scatter', xAxisIndex: xLog, yAxisIndex: yLog, data: logPts, symbolSize: 6,
    itemStyle: { color: dotColors[i] }, silent: true, z: 1
  });
  series.push({
    type: 'line', name: 'proportional ' + i, xAxisIndex: xLog, yAxisIndex: yLog, data: props[i],
    symbol: 'none', lineStyle: { color: PROP, width: 2.3, type: [8, 5] }, silent: true, z: 2
  });
  series.push({
    type: 'line', name: 'fit ' + i, xAxisIndex: xLog, yAxisIndex: yLog, data: fits[i],
    symbol: 'none', lineStyle: { color: ORANGE, width: 3.3 }, silent: true, z: 3
  });
  series.push({
    type: 'line', name: 'log mean ' + i, xAxisIndex: xLog, yAxisIndex: yLog, data: meanPts,
    symbol: 'circle', symbolSize: 14, itemStyle: { color: CREAM },
    lineStyle: { color: CREAM, width: 3.3 }, silent: true, z: 4
  });
}

titles.push({
  text: 'dashed = if margin were proportional', right: 54, top: 1372, padding: 0,
  textStyle: { fontFamily: SANS, fontSize: 15.5, lineHeight: 18, fontWeight: 'normal', color: '#9c7433' }
});

var chart = echarts.init(document.getElementById('chart'), null, { renderer: 'canvas' });
chart.setOption({
  backgroundColor: BG,
  animation: false,
  textStyle: { fontFamily: SANS },
  title: titles,
  legend: {
    data: ['mean margin in bin', 'median'],
    orient: 'vertical', left: 122, top: 275,
    itemWidth: 44, itemHeight: 14, itemGap: 8,
    padding: [7, 12, 7, 6],
    backgroundColor: 'rgba(14,12,9,0.92)', borderColor: '#3d3426', borderWidth: 1.2, borderRadius: 4,
    textStyle: { color: '#e4dfd4', fontSize: 16.5, fontFamily: SANS },
    selectedMode: false
  },
  grid: grids,
  xAxis: xAxes,
  yAxis: yAxes,
  series: series
});
</script>
</body>
</html>
